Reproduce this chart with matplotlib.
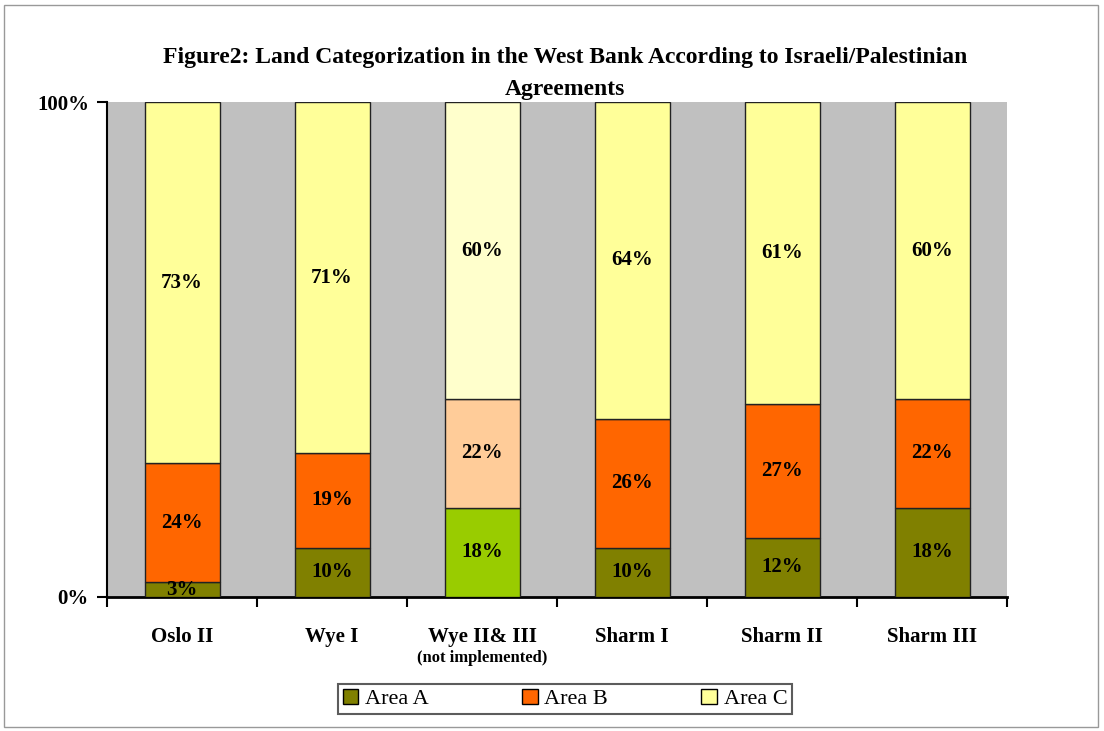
import numpy as np
import matplotlib
matplotlib.use('Agg')
import matplotlib.pyplot as plt
from matplotlib.patches import Rectangle, Patch

# data
categories = ['Oslo II', 'Wye I', 'Wye II& III', 'Sharm I', 'Sharm II', 'Sharm III']
area_a = [3, 10, 18, 10, 12, 18]
area_b = [24, 19, 22, 26, 27, 22]
area_c = [73, 71, 60, 64, 61, 60]

# Wye II & III (not implemented) is drawn in lighter shades
normal_colors = ['#808000', '#FF6600', '#FFFF99']
pale_colors = ['#99CC00', '#FFCC99', '#FFFFCC']
pale_index = 2

plt.rcParams['font.family'] = 'Liberation Serif'

fig = plt.figure(figsize=(11.04, 7.31), dpi=100)
ax = fig.add_axes([107 / 1104, 1 - 597 / 731, 900 / 1104, 495 / 731])
ax.set_facecolor('#C0C0C0')

x = np.arange(len(categories))
a = np.array(area_a, dtype=float)
b = np.array(area_b, dtype=float)
c = np.array(area_c, dtype=float)
tot = a + b + c
shares = [a / tot * 100, b / tot * 100, c / tot * 100]
raw = [a, b, c]

bottom = np.zeros(len(categories))
for k in range(3):
    cols = [pale_colors[k] if i == pale_index else normal_colors[k] for i in range(len(categories))]
    ax.bar(x, shares[k], width=0.5, bottom=bottom, color=cols,
           edgecolor='#222222', linewidth=1.0, zorder=3)
    for i in range(len(categories)):
        ax.text(x[i], bottom[i] + shares[k][i] / 2, '%d%%' % raw[k][i],
                ha='center', va='center', fontsize=15, fontweight='bold', zorder=4)
    bottom += shares[k]

ax.set_xlim(-0.5, 5.5)
ax.set_ylim(0, 100)
ax.set_yticks([0, 100])
ax.set_yticklabels(['0%', '100%'], fontsize=15, fontweight='bold')
ax.set_xticks(np.arange(-0.5, 5.6, 1))
ax.set_xticklabels([])
ax.tick_params(axis='both', direction='out', length=7, width=1.5, pad=6)
for s in ['top', 'right']:
    ax.spines[s].set_visible(False)
ax.spines['left'].set_linewidth(1.5)
ax.spines['bottom'].set_linewidth(2)

for i, cat in enumerate(categories):
    ax.text(x[i], -8, cat, ha='center', va='center', fontsize=15,
            fontweight='bold', clip_on=False)
ax.text(x[pale_index], -12.3, '(not implemented)', ha='center', va='center',
        fontsize=12, fontweight='bold', clip_on=False)

fig.text(565 / 1104, 1 - 58 / 731,
         'Figure2: Land Categorization in the West Bank According to Israeli/Palestinian',
         ha='center', va='center', fontsize=17, fontweight='bold')
fig.text(565 / 1104, 1 - 90 / 731, 'Agreements',
         ha='center', va='center', fontsize=17, fontweight='bold')

handles = [Patch(facecolor=normal_colors[k], edgecolor='black') for k in range(3)]
leg = fig.legend(handles, ['Area A', 'Area B', 'Area C'], loc='center',
                 bbox_to_anchor=(565 / 1104, 1 - 699 / 731), ncol=3,
                 fontsize=16, frameon=True, fancybox=False, columnspacing=4.2,
                 handlelength=0.7, handleheight=0.7, handletextpad=0.3,
                 borderpad=0.2, borderaxespad=0)
leg.get_frame().set_edgecolor('#333333')
leg.get_frame().set_linewidth(1.5)

fig.patches.append(Rectangle((4 / 1104, 4 / 731), 1094 / 1104, 722 / 731,
                             transform=fig.transFigure, fill=False,
                             edgecolor='#999999', linewidth=1))

fig.savefig('out.png', dpi=100)
